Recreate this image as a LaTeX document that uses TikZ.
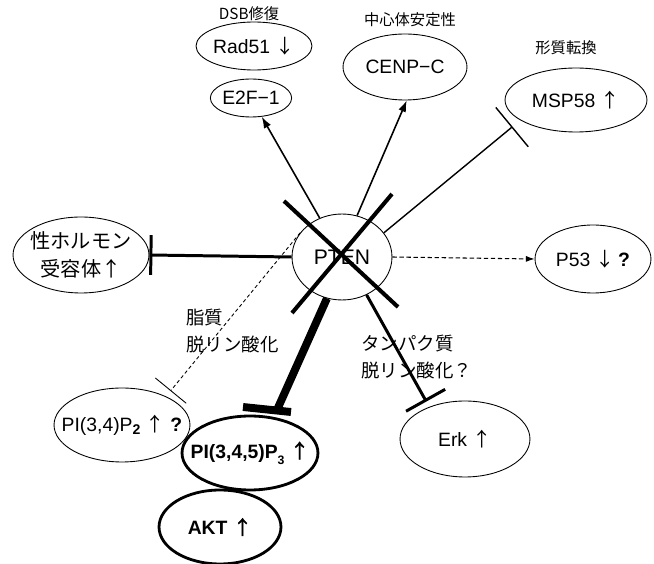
\documentclass[tikz,border=0pt]{standalone}
\usepackage{fontspec}
\setmainfont{Liberation Sans}
\newfontfamily\jp{Noto Sans CJK JP}[AutoFakeBold=1.5]
\usetikzlibrary{shapes.geometric, arrows.meta, calc, positioning}

\newcommand{\up}{{\jp ↑}}
\newcommand{\dn}{{\jp ↓}}
\newcommand{\zw}[1]{\makebox[0pt]{#1}}

\begin{document}
\begin{tikzpicture}[x=0.02cm, y=-0.02cm,
				radii/.style 2 args={minimum width=#1*0.04cm, minimum height=#2*0.04cm},
				ell/.style={ellipse, draw, line width=0.5pt, inner sep=0pt, align=center, font=\fontsize{11}{15}\selectfont},
				fatell/.style={ell, line width=1.6pt, font=\fontsize{11}{15}\selectfont\bfseries},
				toptxt/.style={font=\jp\fontsize{8.7}{10}\selectfont, inner sep=0pt},
				sidetxt/.style={font=\jp\fontsize{10.5}{15}\selectfont, align=left, anchor=west, inner sep=0pt},
				act/.style={line width=0.9pt, -{Latex[length=6.5pt,width=4.5pt]}},
				inh/.style={-{Bar[width=#1]}},
				cross/.style={line width=2.3pt}]
	\useasboundingbox (0,0) rectangle (654,564);
	\node[ell, radii={50}{43}, font=\fontsize{12}{15}\selectfont] (pten) at (342,257) {PTEN};
	\node[ell, radii={58}{24}] (rad) at (254,46) {Rad51 \dn};
	\node[ell, radii={34}{19}] (etf) at (251,98) {E2F−1};
	\node[ell, radii={62}{33}] (cenp) at (405,67) {CENP−C};
	\node[ell, radii={71}{32}] (msp) at (576,100) {MSP58 \up};
	\node[ell, radii={68}{38}, font=\jp\fontsize{11.5}{16}\selectfont] (horm) at (81,255) {\zw{性ホルモン}\\\zw{受容体↑}};
	\node[ell, radii={58}{34}] (p53) at (593,259) {P53 \dn\,\textbf{?}};
	\node[ell, radii={68}{37}] (pip2) at (122,425) {\zw{PI(3,4)P\raisebox{-.3ex}{\bfseries\footnotesize 2} \up\ \textbf{?}}};
	\node[fatell, radii={68}{37}] (pip3) at (250,453) {\zw{PI(3,4,5)P\raisebox{-.6ex}{\scriptsize 3} \up}};
	\node[fatell, radii={61}{37}] (akt) at (220,527) {AKT \up};
	\node[ell, radii={65}{38}] (erk) at (465,439) {Erk \up};
	\node[toptxt] (dsb) at (249,14) {DSB修復};
	\node[toptxt] (centro) at (410,20) {中心体安定性};
	\node[toptxt] (transf) at (566,48) {形質転換};
	\node[sidetxt] (lipid) at (186,331) {脂質\\脱リン酸化};
	\node[sidetxt] (prot) at (361,357) {タンパク質\\脱リン酸化？};
	\draw[act] (pten) -- (etf);
	\draw[act] (pten.70) -- (cenp.-87);
	\draw[inh=29pt, line width=0.8pt, shorten >=0.2cm] (pten.30) -- (msp.200);
	\draw[inh=22.7pt, line width=1.7pt] (pten.west) -- (horm.east);
	\draw[line width=0.6pt, dash pattern=on 2.5pt off 1.5pt, -{Latex[length=5pt,width=3.5pt]}] (pten.east) -- (p53.west);
	\draw[inh=22.7pt, line width=0.5pt, dash pattern=on 2pt off 1.5pt, shorten >=0.14cm] (pten.150) -- (pip2.33);
	\draw[inh=25.5pt, line width=1.7pt, shorten >=0.12cm] (pten.303) -- (erk.138);
	\coordinate (p3end) at (277,410);
	\draw[line width=4.5pt] (pten.250) -- (p3end);
	\draw[line width=4.5pt] ($(p3end)+(-34,-3)$) -- ($(p3end)+(14,2)$);
	\draw[cross] ($(pten)+(-58,-56)$) -- ($(pten)+(56,50)$);
	\draw[cross] ($(pten)+(50,-63)$) -- ($(pten)+(-50,56)$);
\end{tikzpicture}
\end{document}
